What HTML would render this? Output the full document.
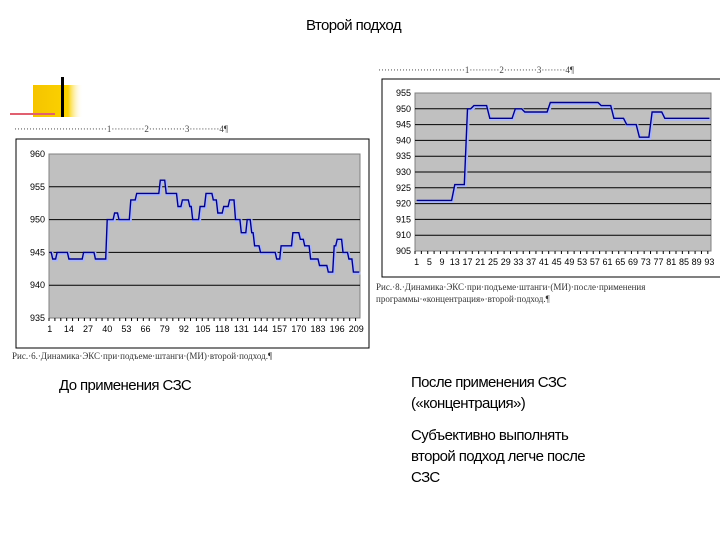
<!DOCTYPE html>
<html><head><meta charset="utf-8"><style>
body{margin:0;width:720px;height:540px;background:#fff;overflow:hidden;position:relative;font-family:"Liberation Sans",sans-serif}
.t{position:absolute;font-size:15px;letter-spacing:-0.6px;color:#000;line-height:21px;white-space:nowrap}
svg{position:absolute;left:0;top:0}
</style></head><body>
<div class="t" style="left:306px;top:15px">Второй подход</div>
<div class="t" style="left:59px;top:375px">До применения СЗС</div>
<div class="t" style="left:411px;top:372px">После применения СЗС<br>(«концентрация»)</div>
<div class="t" style="left:411px;top:425px">Субъективно выполнять<br>второй подход легче после<br>СЗС</div>
<svg id="s" width="720" height="540">
<defs><linearGradient id="yg" x1="0" x2="1"><stop offset="0" stop-color="#f5c400"/><stop offset="0.7" stop-color="#fbd200"/><stop offset="1" stop-color="#fff" stop-opacity="0"/></linearGradient></defs>
<rect x="33" y="85" width="50" height="32" fill="url(#yg)"/>
<rect x="61" y="77" width="3" height="40" fill="#000"/>
<rect x="10" y="113" width="45" height="2" fill="#e06070"/>
<text x="14" y="132" font-size="9" font-family="Liberation Serif" fill="#444">·······························1···········2············3··········4¶</text>
<text x="378" y="73" font-size="9" font-family="Liberation Serif" fill="#444">·····························1··········2···········3········4¶</text>
<text x="12" y="359" font-size="9" font-family="Liberation Serif" fill="#333">Рис.·6.·Динамика·ЭКС·при·подъеме·штанги·(МИ)·второй·подход.¶</text>
<text x="376" y="290" font-size="9" font-family="Liberation Serif" fill="#333">Рис.·8.·Динамика·ЭКС·при·подъеме·штанги·(МИ)·после·применения</text>
<text x="376" y="302" font-size="9" font-family="Liberation Serif" fill="#333">программы·«концентрация»·второй·подход.¶</text>
</svg>
<script>
// Left chart data (run-length: value, count)
const leftVals=[945,944,945,944,945,944,950,951,950,953,954,956,954,952,953,952,950,952,954,953,951,952,953,950,948,950,948,946,945,944,946,948,947,946,944,943,942,946,947,945,944,942];
const leftRuns=[2,3,8,10,8,8,5,3,8,4,16,4,8,3,5,2,5,4,5,3,4,4,4,4,4,3,2,4,11,3,8,5,3,4,6,6,4,2,4,4,3,5];
const leftYTicks=[935,940,945,950,955,960];
const leftXLabels=[1,14,27,40,53,66,79,92,105,118,131,144,157,170,183,196,209];
// Right chart data
const rightVals=[921,926,950,951,947,950,949,952,951,947,945,941,949,947];
const rightRuns=[12,4,2,5,8,3,8,16,4,4,4,4,4,15];
const rightYTicks=[905,910,915,920,925,930,935,940,945,950,955];
const rightXLabels=[1,5,9,13,17,21,25,29,33,37,41,45,49,53,57,61,65,69,73,77,81,85,89,93];

const NS="http://www.w3.org/2000/svg",svg=document.getElementById('s');
function mk(t,a,p){const e=document.createElementNS(NS,t);for(const k in a)e.setAttribute(k,a[k]);(p||svg).appendChild(e);return e;}
function expand(v,r){const o=[];v.forEach((x,i)=>{for(let j=0;j<r[i];j++)o.push(x);});return o;}
function chart(c){
  const g=mk('g',{});
  
  
  const box=mk('rect',{x:c.bx,y:c.by,width:c.bw,height:c.bh,fill:'#fff',stroke:'#000','stroke-width':1},g);
  
  
  const pa=mk('rect',{x:c.x0,y:c.y0,width:c.x1-c.x0,height:c.y1-c.y0,fill:'#c0c0c0',stroke:'#808080'},g);
  
  
  const ymin=c.yt[0],ymax=c.yt[c.yt.length-1];
  const Y=v=>c.y1-(v-ymin)/(ymax-ymin)*(c.y1-c.y0);
  const data=expand(c.vals,c.runs),n=data.length;
  const step=(c.x1-c.x0)/n;
  const X=i=>c.x0+(i+0.5)*step;
  c.yt.forEach(t=>{
    if(t!==ymin&&t!==ymax){const l=mk('line',{x1:c.x0,x2:c.x1,y1:Y(t),y2:Y(t),stroke:'#000','stroke-width':1},g);
    
    }
    const tx=mk('text',{x:c.x0-4,y:Y(t)+3,'font-size':9,'text-anchor':'end',fill:'#000'},g);tx.textContent=t;
    
    
  });
  for(let i=0;i<=n;i+=Math.max(1,Math.round(n/60))){mk('line',{x1:c.x0+i*step,x2:c.x0+i*step,y1:c.y1,y2:c.y1+3,stroke:'#000'},g);}
  c.xl.forEach(l=>{const tx=mk('text',{x:X(l-1),y:c.y1+14,'font-size':9,'text-anchor':'middle',fill:'#000'},g);tx.textContent=l;
    
    });
  let d='';data.forEach((v,i)=>{d+=(i?'L':'M')+X(i).toFixed(1)+','+Y(v).toFixed(1);});
  mk('path',{d:d,fill:'none',stroke:'#a8b4ff','stroke-width':3,transform:'translate(1,1)'},g);
  const p=mk('path',{d:d,fill:'none',stroke:'#000080','stroke-width':1.4},g);
  
  
}
chart({name:'chart-before',bx:16,by:139,bw:353,bh:209,x0:49,x1:360,y0:154,y1:318,vals:leftVals,runs:leftRuns,yt:leftYTicks,xl:leftXLabels});
chart({name:'chart-after',bx:382,by:79,bw:340,bh:198,x0:415,x1:711,y0:93,y1:251,vals:rightVals,runs:rightRuns,yt:rightYTicks,xl:rightXLabels});
</script>
</body></html>
